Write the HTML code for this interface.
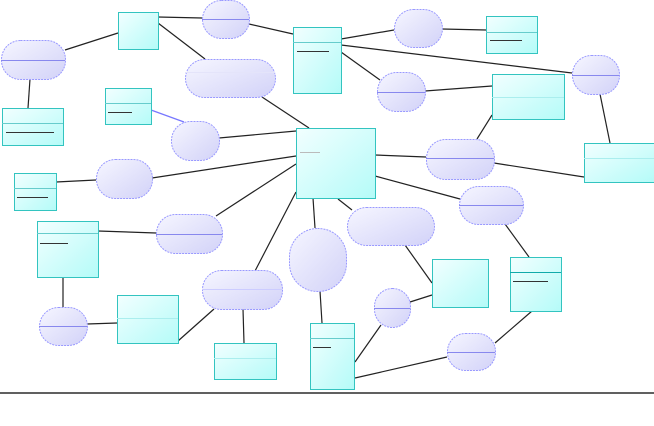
<!DOCTYPE html>
<html><head><style>body{margin:0;background:#fff}svg{display:block}</style></head><body>
<svg width="654" height="426" viewBox="0 0 654 426" xmlns="http://www.w3.org/2000/svg">
<defs>
<linearGradient id="c" x1="0" y1="0" x2="1" y2="1"><stop offset="0" stop-color="#f2ffff"/><stop offset="1" stop-color="#b4fbf8"/></linearGradient>
<linearGradient id="e" x1="0" y1="0" x2="1" y2="1"><stop offset="0" stop-color="#f6f6ff"/><stop offset="1" stop-color="#d2d2f8"/></linearGradient>
</defs>
<g stroke="#222" stroke-width="1.2" fill="none">
<line x1="65" y1="50" x2="118" y2="33"/><line x1="30" y1="79" x2="28" y2="108"/>
<line x1="158" y1="17" x2="202" y2="18"/><line x1="158" y1="23" x2="205" y2="59"/>
<line x1="249" y1="24" x2="293" y2="34"/><line x1="262" y1="97" x2="309" y2="128"/>
<line x1="151" y1="110" x2="184" y2="122" stroke="#77f"/>
<line x1="219" y1="138" x2="296" y2="131"/><line x1="152" y1="178" x2="296" y2="156"/>
<line x1="56" y1="182" x2="96" y2="180"/><line x1="296" y1="164" x2="216" y2="216"/>
<line x1="296" y1="192" x2="255" y2="271"/><line x1="313" y1="198" x2="315" y2="228"/>
<line x1="338" y1="199" x2="352" y2="210"/><line x1="341" y1="39" x2="394" y2="30"/>
<line x1="442" y1="29" x2="486" y2="30"/><line x1="341" y1="45" x2="572" y2="73"/>
<line x1="341" y1="52" x2="380" y2="80"/><line x1="425" y1="91" x2="492" y2="86"/>
<line x1="492" y1="115" x2="477" y2="139"/><line x1="600" y1="94" x2="610" y2="143"/>
<line x1="375" y1="155" x2="426" y2="157"/><line x1="494" y1="163" x2="584" y2="177"/>
<line x1="375" y1="176" x2="460" y2="199"/><line x1="505" y1="224" x2="529" y2="257"/>
<line x1="405" y1="245" x2="432" y2="283"/><line x1="410" y1="302" x2="432" y2="295"/>
<line x1="381" y1="325" x2="355" y2="362"/><line x1="355" y1="378" x2="447" y2="357"/>
<line x1="495" y1="343" x2="532" y2="311"/><line x1="98" y1="231" x2="156" y2="233"/>
<line x1="63" y1="277" x2="63" y2="307"/><line x1="87" y1="324" x2="117" y2="323"/>
<line x1="178" y1="341" x2="214" y2="309"/><line x1="243" y1="309" x2="244" y2="343"/>
<line x1="320" y1="291" x2="322" y2="323"/>
<line x1="0" y1="393" x2="654" y2="393" stroke="#000"/>
</g>
<g fill="url(#c)" stroke="#33c4c0" stroke-width="1">
<rect x="118.5" y="12.5" width="40" height="37"/>
<rect x="293.5" y="27.5" width="48" height="66"/>
<rect x="486.5" y="16.5" width="51" height="37"/>
<rect x="105.5" y="88.5" width="46" height="36"/>
<rect x="2.5" y="108.5" width="61" height="37"/>
<rect x="296.5" y="128.5" width="79" height="70"/>
<rect x="492.5" y="74.5" width="72" height="45"/>
<rect x="584.5" y="143.5" width="70" height="39"/>
<rect x="14.5" y="173.5" width="42" height="37"/>
<rect x="37.5" y="221.5" width="61" height="56"/>
<rect x="117.5" y="295.5" width="61" height="48"/>
<rect x="214.5" y="343.5" width="62" height="36"/>
<rect x="310.5" y="323.5" width="44" height="66"/>
<rect x="432.5" y="259.5" width="56" height="48"/>
<rect x="510.5" y="257.5" width="51" height="54"/>
</g>
<g stroke="#66cccc" stroke-width="1">
<line x1="293" y1="42.5" x2="341" y2="42.5"/><line x1="486" y1="32.5" x2="537" y2="32.5"/>
<line x1="105" y1="103.5" x2="151" y2="103.5"/><line x1="2" y1="123.5" x2="63" y2="123.5"/>
<line x1="14" y1="188.5" x2="56" y2="188.5"/><line x1="37" y1="233.5" x2="98" y2="233.5"/>
<line x1="310" y1="338.5" x2="354" y2="338.5"/><line x1="510" y1="272.5" x2="561" y2="272.5" stroke="#1aa"/>
<line x1="492" y1="97.5" x2="564" y2="97.5" stroke="#aee"/><line x1="584" y1="158.5" x2="654" y2="158.5" stroke="#aee"/>
<line x1="117" y1="318.5" x2="178" y2="318.5" stroke="#aee"/><line x1="214" y1="358.5" x2="276" y2="358.5" stroke="#aee"/>
</g>
<g stroke="#333" stroke-width="1">
<line x1="297" y1="51.5" x2="329" y2="51.5"/><line x1="490" y1="40.5" x2="522" y2="40.5"/>
<line x1="108" y1="112.5" x2="132" y2="112.5"/><line x1="6" y1="132.5" x2="54" y2="132.5"/>
<line x1="17" y1="197.5" x2="48" y2="197.5"/><line x1="40" y1="243.5" x2="68" y2="243.5"/>
<line x1="313" y1="347.5" x2="331" y2="347.5"/><line x1="513" y1="281.5" x2="548" y2="281.5"/>
<line x1="300" y1="152.5" x2="320" y2="152.5" stroke="#bbb"/>
</g>
<g fill="url(#e)" stroke="#99f" stroke-width="1" stroke-dasharray="2 1">
<rect x="1.5" y="40.5" width="64" height="39" rx="19"/>
<rect x="202.5" y="0.5" width="47" height="38" rx="19"/>
<rect x="185.5" y="59.5" width="90" height="38" rx="19"/>
<rect x="394.5" y="9.5" width="48" height="38" rx="19"/>
<rect x="377.5" y="72.5" width="48" height="39" rx="19"/>
<rect x="572.5" y="55.5" width="47" height="39" rx="19"/>
<rect x="171.5" y="121.5" width="48" height="39" rx="19"/>
<rect x="96.5" y="159.5" width="56" height="39" rx="19"/>
<rect x="426.5" y="139.5" width="68" height="40" rx="19"/>
<rect x="459.5" y="186.5" width="64" height="38" rx="19"/>
<rect x="156.5" y="214.5" width="66" height="39" rx="19"/>
<rect x="347.5" y="207.5" width="87" height="38" rx="19"/>
<rect x="289.5" y="228.5" width="57" height="63" rx="28"/>
<rect x="202.5" y="270.5" width="80" height="39" rx="19"/>
<rect x="39.5" y="307.5" width="48" height="38" rx="19"/>
<rect x="374.5" y="288.5" width="36" height="39" rx="18"/>
<rect x="447.5" y="333.5" width="48" height="37" rx="18"/>
</g>
<g stroke="#8888ee" stroke-width="1">
<line x1="1" y1="60.5" x2="65" y2="60.5"/><line x1="202" y1="19.5" x2="249" y2="19.5"/>
<line x1="377" y1="92.5" x2="425" y2="92.5"/><line x1="572" y1="75.5" x2="619" y2="75.5"/>
<line x1="426" y1="158.5" x2="494" y2="158.5"/><line x1="459" y1="205.5" x2="523" y2="205.5"/>
<line x1="156" y1="234.5" x2="222" y2="234.5"/><line x1="202" y1="289.5" x2="282" y2="289.5" stroke="#ccf"/>
<line x1="39" y1="326.5" x2="87" y2="326.5"/><line x1="374" y1="308.5" x2="410" y2="308.5"/>
<line x1="447" y1="352.5" x2="495" y2="352.5"/><line x1="185" y1="72.5" x2="275" y2="72.5" stroke="#e4e4fa"/>
</g>
</svg>
</body></html>
